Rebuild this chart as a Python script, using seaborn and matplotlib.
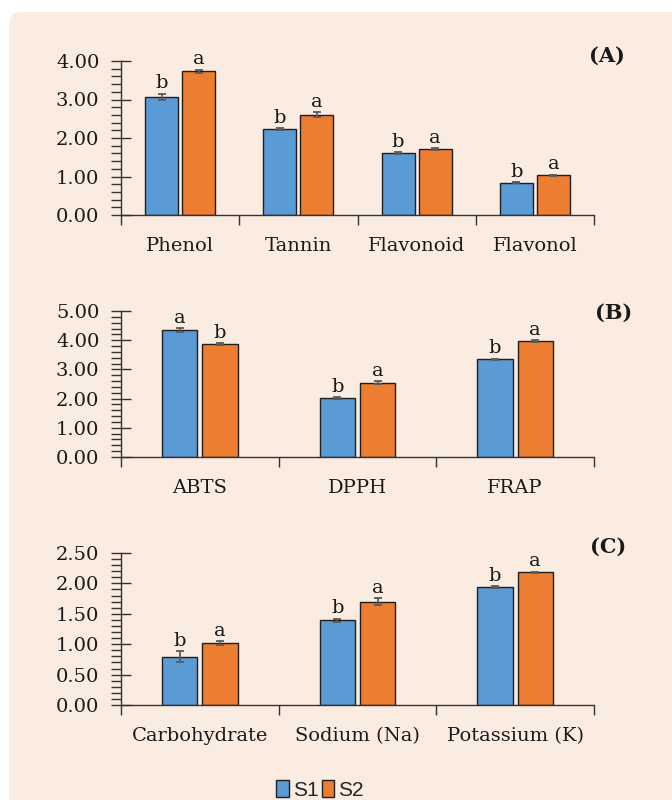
import matplotlib
matplotlib.use("Agg")
import matplotlib.pyplot as plt
import seaborn as sns
import pandas as pd
import numpy as np
from matplotlib.patches import FancyBboxPatch, Patch
from matplotlib.ticker import MultipleLocator, AutoMinorLocator, FixedLocator, FormatStrFormatter

# ---------------- data ----------------
series = ["S1", "S2"]
colors = ["#5B9BD5", "#ED7D31"]

cats_a = ["Phenol", "Tannin", "Flavonoid", "Flavonol"]
s1_a = [3.07, 2.23, 1.61, 0.84]
s2_a = [3.73, 2.61, 1.71, 1.03]
e1_a = [0.08, 0.03, 0.02, 0.02]
e2_a = [0.04, 0.06, 0.02, 0.02]
let1_a = ["b", "b", "b", "b"]
let2_a = ["a", "a", "a", "a"]

cats_b = ["ABTS", "DPPH", "FRAP"]
s1_b = [4.35, 2.02, 3.35]
s2_b = [3.87, 2.55, 3.97]
e1_b = [0.07, 0.03, 0.02]
e2_b = [0.03, 0.05, 0.02]
let1_b = ["a", "b", "b"]
let2_b = ["b", "a", "a"]

cats_c = ["Carbohydrate", "Sodium (Na)", "Potassium (K)"]
s1_c = [0.79, 1.39, 1.94]
s2_c = [1.02, 1.70, 2.18]
e1_c = [0.09, 0.03, 0.01]
e2_c = [0.03, 0.06, 0.01]
let1_c = ["b", "b", "b"]
let2_c = ["a", "a", "a"]

# ---------------- style ----------------
sns.set_style("ticks")
plt.rcParams["font.family"] = ["DejaVu Serif", "Liberation Serif"]
plt.rcParams["axes.linewidth"] = 1.0
SERIF = 14
TXT = "#1a1a1a"

W, H = 672, 800
fig = plt.figure(figsize=(W / 100, H / 100), dpi=100, facecolor="white")

bg = FancyBboxPatch((9 / W, -40 / H), (W + 40 - 9) / W, (H - 12 + 40) / H,
                    boxstyle="round,pad=0,rounding_size=0.018",
                    transform=fig.transFigure, facecolor="#FBECE2",
                    edgecolor="none", zorder=-10)
fig.patches.append(bg)


def px_axes(left, right, top, bottom):
    return fig.add_axes([left / W, 1 - bottom / H, (right - left) / W, (bottom - top) / H])


def panel(ax, cats, v1, v2, er1, er2, l1, l2, ymax, ystep, width, gap, tag, tag_xy):
    df = pd.DataFrame({
        "cat": list(cats) * 2,
        "series": [series[0]] * len(cats) + [series[1]] * len(cats),
        "val": list(v1) + list(v2),
    })
    sns.barplot(data=df, x="cat", y="val", hue="series", hue_order=series,
                palette=colors, saturation=1, width=width, gap=gap,
                errorbar=None, edgecolor="#1f1f1f", linewidth=1.0,
                legend=False, ax=ax)
    bars = sorted(ax.patches, key=lambda p: p.get_x())
    errs, letters = [], []
    for i in range(len(cats)):
        errs += [er1[i], er2[i]]
        letters += [l1[i], l2[i]]
    for p, e, t in zip(bars, errs, letters):
        x = p.get_x() + p.get_width() / 2
        h = p.get_height()
        ax.errorbar(x, h, yerr=e, fmt="none", ecolor="#5a5a5a",
                    elinewidth=1.3, capsize=3, capthick=1.3, zorder=5)
        ax.annotate(t, (x, h + e), xytext=(0, 1.0), textcoords="offset points",
                    ha="center", va="bottom", fontsize=SERIF, color=TXT,
                    annotation_clip=False)
    ax.set_facecolor("none")
    ax.set_ylim(0, ymax)
    ax.set_xlim(-0.5, len(cats) - 0.5)
    ax.set_xlabel("")
    ax.set_ylabel("")
    ax.yaxis.set_major_locator(MultipleLocator(ystep))
    ax.yaxis.set_minor_locator(AutoMinorLocator(5))
    ax.yaxis.set_major_formatter(FormatStrFormatter("%.2f"))
    ax.tick_params(axis="y", which="major", direction="inout", length=15,
                   width=1, pad=8, labelsize=SERIF, labelcolor=TXT, color="#333333")
    ax.tick_params(axis="y", which="minor", direction="out", length=7,
                   width=1, color="#333333")
    ax.set_xticks(range(len(cats)))
    ax.set_xticklabels(cats)
    ax.xaxis.set_minor_locator(FixedLocator(np.arange(-0.5, len(cats), 1.0)))
    ax.tick_params(axis="x", which="major", length=0, pad=16,
                   labelsize=SERIF, labelcolor=TXT)
    ax.tick_params(axis="x", which="minor", direction="out", length=7,
                   width=1, color="#333333")
    for s in ["top", "right"]:
        ax.spines[s].set_visible(False)
    for s in ["left", "bottom"]:
        ax.spines[s].set_color("#333333")
    fig.text(tag_xy[0] / W, 1 - tag_xy[1] / H, tag, ha="center", va="center",
             fontsize=15, fontweight="bold", color=TXT)


ax_a = px_axes(121, 594, 61, 215)
panel(ax_a, cats_a, s1_a, s2_a, e1_a, e2_a, let1_a, let2_a,
      4.0, 1.0, 0.627, 0.11, "(A)", (607, 56))

ax_b = px_axes(121, 594, 311, 457)
panel(ax_b, cats_b, s1_b, s2_b, e1_b, e2_b, let1_b, let2_b,
      5.0, 1.0, 0.51, 0.125, "(B)", (614, 313))

ax_c = px_axes(121, 594, 553, 705)
panel(ax_c, cats_c, s1_c, s2_c, e1_c, e2_c, let1_c, let2_c,
      2.5, 0.5, 0.51, 0.125, "(C)", (608, 547))

handles = [Patch(facecolor=c, edgecolor="#1f1f1f", linewidth=1.0, label=s)
           for s, c in zip(series, colors)]
fig.legend(handles=handles, loc="center", bbox_to_anchor=(320 / W, 1 - 790 / H),
           ncol=2, frameon=False, handlelength=0.6, handleheight=0.85,
           handletextpad=0.2, columnspacing=0.15, borderaxespad=0,
           prop={"family": ["Liberation Sans", "DejaVu Sans"], "size": 15})

fig.savefig("out.png", dpi=100, facecolor="white")
